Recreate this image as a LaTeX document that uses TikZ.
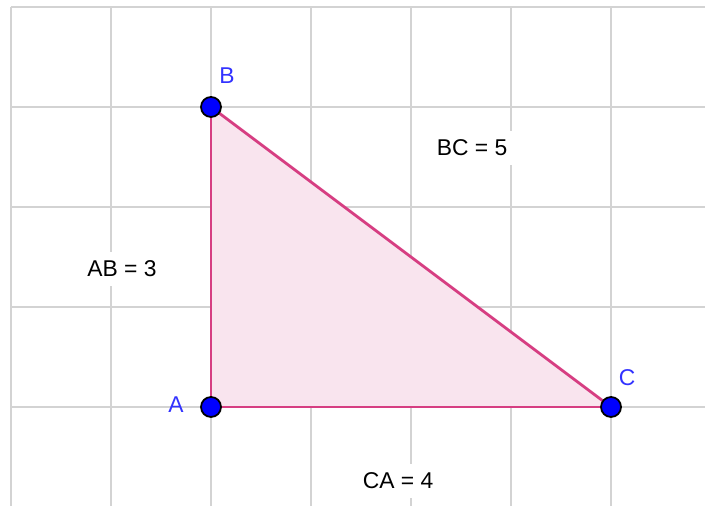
\documentclass[tikz,border=0pt]{standalone}
\usepackage{fontspec}
\setmainfont{Liberation Sans}
\usetikzlibrary{positioning}
\definecolor{gridgray}{RGB}{211,211,211}
\definecolor{sidepink}{RGB}{214,62,130}
\definecolor{facepink}{RGB}{249,228,238}
\definecolor{ptblue}{RGB}{0,0,255}
\definecolor{lblblue}{RGB}{50,50,255}

\begin{document}
\begin{tikzpicture}[
            font=\fontsize{6.5}{7.5}\selectfont,
            gridline/.style={draw=gridgray, line width=0.55pt},
            side/.style={draw=sidepink, line width=0.8pt},
            vertex/.style={circle, draw=black, fill=ptblue, line width=0.5pt, minimum size=2mm, inner sep=0pt},
            vname/.style={text=lblblue, inner sep=1pt},
            measure/.style={fill=white, inner sep=2.5pt}
        ]
            \useasboundingbox (-2.11,-0.99) rectangle (4.94,4.07);
            % grid
            \foreach \x in {-2,...,4}
                \draw[gridline] (\x,-0.99) -- (\x,4);
            \foreach \y in {0,...,4}
                \draw[gridline] (-2,\y) -- (4.94,\y);

            \coordinate (pA) at (0,0);
            \coordinate (pB) at (0,3);
            \coordinate (pC) at (4,0);

            \fill[facepink] (pA) -- (pB) -- (pC) -- cycle;
            \draw[side] (pA) -- (pB);
            \draw[side] (pB) -- (pC);
            \draw[side] (pC) -- (pA);

            \node[measure] (lenAB) at (-0.89,1.38) {AB = 3};
            \node[measure] (lenBC) at (2.61,2.59) {BC = 5};
            \node[measure] (lenCA) at (1.87,-0.74) {CA = 4};

            \node[vertex] (A) at (pA) {};
            \node[vertex] (B) at (pB) {};
            \node[vertex] (C) at (pC) {};
            \node[vname] (nameA) at (-0.35,0.02) {A};
            \node[vname] (nameB) at (0.16,3.31) {B};
            \node[vname] (nameC) at (4.16,0.29) {C};
        \end{tikzpicture}
\end{document}
